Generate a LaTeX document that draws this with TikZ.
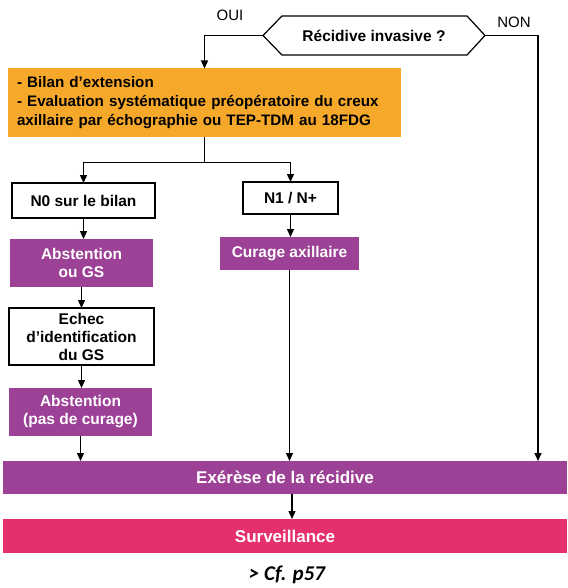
\documentclass[tikz,border=0pt]{standalone}
\usepackage{fontspec}
\setmainfont{Liberation Sans}
\newfontfamily\notefont{Carlito}
\usetikzlibrary{arrows.meta}

\definecolor{bilanorange}{HTML}{F6A82A}
\definecolor{actpurple}{HTML}{9C4196}
\definecolor{survpink}{HTML}{E5316B}

\tikzset{
  base/.style={inner sep=0pt, outer sep=0pt, align=center,
    font=\fontsize{15.5}{18}\selectfont\bfseries},
  whitebox/.style={base, draw=black, line width=1.4pt, fill=white},
  purplebox/.style={base, fill=actpurple, text=white},
  widebox/.style={base, text=white, minimum width=564pt,
    font=\fontsize{17}{20}\selectfont\bfseries},
  orangebox/.style={base, fill=bilanorange, align=left,
    font=\fontsize{15.2}{19}\selectfont\bfseries},
  arr/.style={line width=1.3pt, -{Triangle[length=8pt,width=7pt]}},
  link/.style={line width=1.3pt},
  answer/.style={font=\fontsize{15}{18}\selectfont}
}

\begin{document}
\begin{tikzpicture}[x=1pt,y=-1pt]
\useasboundingbox (0,0) rectangle (567,588);

% decision
\node[base, minimum width=222pt, minimum height=39pt] (q) at (374,35.5) {Récidive invasive ?};
\draw[line width=1.2pt] (q.west) -- ([xshift=19pt]q.north west) -- ([xshift=-18pt]q.north east)
  -- (q.east) -- ([xshift=-18pt]q.south east) -- ([xshift=19pt]q.south west) -- cycle;
\node[answer] (oui) at (230,15) {OUI};
\node[answer] (non) at (514,22) {NON};

% work-up
\node[orangebox, minimum width=393pt, minimum height=69pt, text width=375pt] (bilan) at (204.5,103)
  {- Bilan d’extension\\- Evaluation systématique préopératoire du creux\\axillaire par échographie ou TEP-TDM au 18FDG};

% branches
\node[whitebox, minimum width=143pt, minimum height=35pt] (n0) at (83.5,200.5) {N0 sur le bilan};
\node[whitebox, minimum width=95pt, minimum height=32pt] (n1) at (290.5,198) {N1 / N+};
\node[purplebox, minimum width=143pt, minimum height=48pt] (absgs) at (81.5,263) {Abstention\\ou GS};
\node[purplebox, minimum width=139pt, minimum height=33pt] (curage) at (289.5,253.5) {Curage axillaire};
\node[whitebox, minimum width=145pt, minimum height=57pt] (echec) at (81.5,336.5) {Echec\\d’identification\\du GS};
\node[purplebox, minimum width=143pt, minimum height=48pt] (abspc) at (80.5,412) {Abstention\\(pas de curage)};

% common path
\node[widebox, fill=actpurple, minimum height=33pt] (exerese) at (285,477.5) {Exérèse de la récidive};
\node[widebox, fill=survpink, minimum height=34pt] (surv) at (285,536) {Surveillance};
\node[font=\notefont\fontsize{21}{24}\selectfont\bfseries\itshape] (ref) at (287,575) {> Cf. p57};

% connectors
\draw[arr] (q.west) -| (bilan.north);
\coordinate (nonx) at (538,0);
\draw[arr] (q.east) -| (nonx |- exerese.north);
\draw[link] (bilan.south) -- ++(0,25) coordinate (split);
\draw[arr] (split) -| (n0.north);
\draw[arr] (split) -| (n1.north);
\draw[arr] (n0.south) -- (n0.south |- absgs.north);
\draw[arr] (absgs.south) -- (absgs.south |- echec.north);
\draw[arr] (echec.south) -- (echec.south |- abspc.north);
\draw[arr] (abspc.south) -- (abspc.south |- exerese.north);
\draw[arr] (n1.south) -- (n1.south |- curage.north);
\draw[arr] (curage.south) -- (curage.south |- exerese.north);
\coordinate (mainx) at (292,0);
\draw[arr] (mainx |- exerese.south) -- (mainx |- surv.north);
\end{tikzpicture}
\end{document}
